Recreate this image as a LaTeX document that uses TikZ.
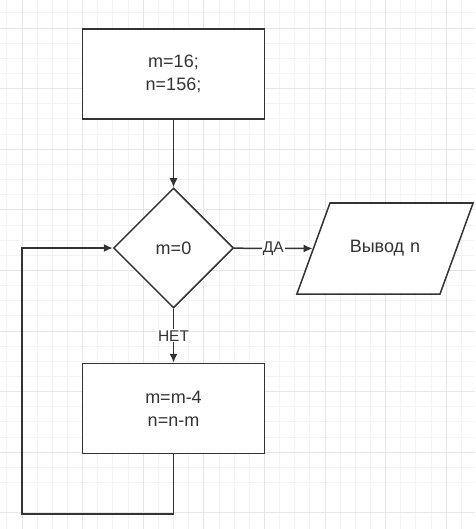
\documentclass[tikz,border=0pt]{standalone}
\usepackage{fontspec}
\setmainfont{Liberation Sans}
\usetikzlibrary{arrows.meta,shapes.geometric}

\definecolor{linegray}{HTML}{333333}
\definecolor{gridminor}{HTML}{F3F3F3}
\definecolor{gridmajor}{HTML}{E6E6E6}

\begin{document}
\begin{tikzpicture}[
	x=1pt, y=-1pt,
	block/.style={ rectangle, draw=linegray, line width=1.5pt, fill=white, text=linegray, align=center, minimum width=182pt, minimum height=90pt, font=\fontsize{18}{23}\selectfont },
	decision/.style={ diamond, draw=linegray, line width=1.5pt, fill=white, text=linegray, minimum width=120pt, minimum height=120pt, inner sep=0pt, font=\fontsize{18}{23}\selectfont },
	output/.style={ trapezium, trapezium left angle=70, trapezium right angle=110, draw=linegray, line width=1.5pt, fill=white, text=linegray, align=center, text width=84pt, text height=12pt, text depth=4pt, inner xsep=13pt, inner ysep=37.5pt, font=\fontsize{18}{23}\selectfont },
	flow/.style={ draw=linegray, line width=1.5pt, -{Latex[length=9pt,width=8pt]} },
	tag/.style={ fill=white, text=linegray, inner sep=1pt, font=\fontsize{15.5}{18}\selectfont }
]

\useasboundingbox (0,0) rectangle (475,529);
\fill[white] (0,0) rectangle (475,529);

% grid
\foreach \i in {0,...,31} {
	\draw[gridminor, line width=0.9pt] ({6.85+15.15*\i},0) -- ++(0,529);
	\draw[gridminor, line width=0.9pt] (0,{12.85+15.15*\i}) -- ++(475,0);
}
\foreach \i in {0,...,7} {
	\draw[gridmajor, line width=0.9pt] ({22+60.6*\i},0) -- ++(0,529);
}
\foreach \i in {0,...,8} {
	\draw[gridmajor, line width=0.9pt] (0,{28+60.6*\i}) -- ++(475,0);
}

\node at (173.5,74) (init) [block] {m=16;\\n=156;};
\node at (173.5,248) (cond) [decision] {m=0};
\node at (385,248.5) (out) [output] {Вывод n};
\node at (173.5,408.5) (upd) [block] {m=m-4\\n=n-m};
\coordinate (loopbl) at (22,514);

\draw[flow] (init) to (cond);
\draw[flow] (cond) to node[tag] {ДА} (out.west);
\draw[flow] (cond) to node[tag] {НЕТ} (upd);
\draw[flow] (upd.south) |- (loopbl) |- (cond.west);

\end{tikzpicture}
\end{document}
